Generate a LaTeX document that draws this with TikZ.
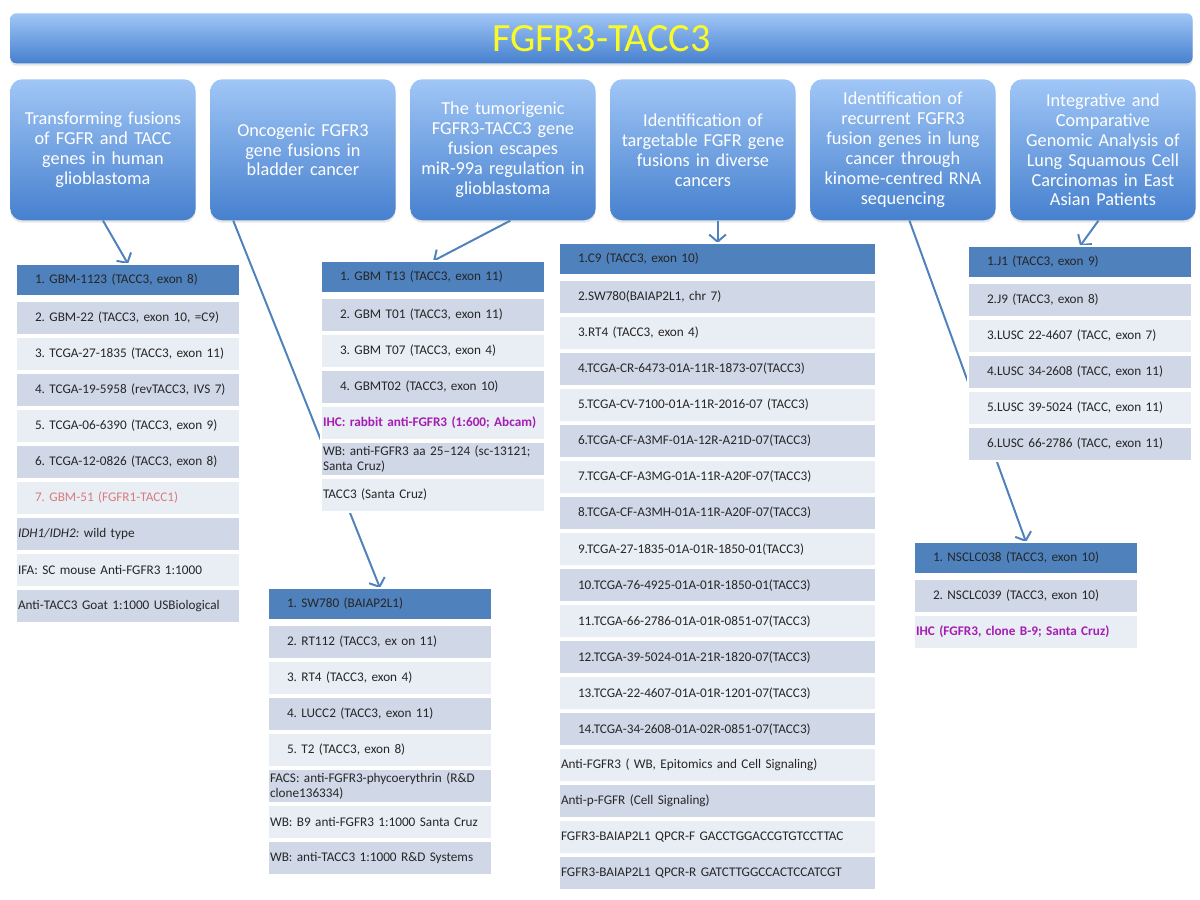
\documentclass[tikz,border=0pt]{standalone}
\usepackage{fontspec}
\setmainfont{Carlito}
\usepackage{xcolor}
\usepackage{tikz}
\usetikzlibrary{arrows.meta, positioning, calc, shadows, backgrounds}

\definecolor{barTop}{RGB}{160,198,246}
\definecolor{barBot}{RGB}{70,128,206}
\definecolor{rowHead}{RGB}{79,129,189}
\definecolor{rowDark}{RGB}{208,216,232}
\definecolor{rowLight}{RGB}{233,237,244}
\definecolor{titleYel}{RGB}{250,250,40}
\definecolor{noteRed}{RGB}{215,125,125}
\definecolor{notePurp}{RGB}{165,30,180}

\begin{document}
\frenchspacing
\begin{tikzpicture}[x=0.025cm, y=-0.025cm,
  banner/.style={rectangle, rounded corners=0.15cm, top color=barTop, bottom color=barBot,
                 minimum width=29.55cm, minimum height=1.25cm, anchor=north west,
                 text=titleYel, font=\fontsize{28.5}{30}\selectfont,
                 drop shadow={shadow xshift=0cm, shadow yshift=-0.06cm, opacity=0.2}},
  paper/.style={rectangle, rounded corners=0.3cm, top color=barTop, bottom color=barBot,
                minimum width=4.625cm, minimum height=3.525cm, text width=4.4cm,
                align=center, text=white, font=\fontsize{13}{14.2}\selectfont,
                drop shadow={shadow xshift=0cm, shadow yshift=-0.06cm, opacity=0.2}},
  cell/.style={rectangle, inner xsep=0.05cm, inner ysep=0pt, outer sep=0pt,
               minimum height=0.85cm, draw=white, line width=0.05cm,
               align=left, font=\fontsize{9.4}{10.2}\selectfont, text=black!85},
  narrow/.style={text width=5.5cm},
  wide/.style={text width=7.825cm},
  head/.style={cell, fill=rowHead, minimum height=0.8cm, anchor=north west},
  dk/.style={cell, fill=rowDark},
  lt/.style={cell, fill=rowLight},
  num/.style={execute at begin node=\hspace*{0.425cm}},
  note/.style={text=notePurp, font=\fontsize{9.4}{10.2}\selectfont\bfseries},
  link/.style={-{Straight Barb[length=1.8mm, width=4.2mm]}, line width=1.4pt, rowHead}
]
\useasboundingbox (0,0) rectangle (1200,899);

% title and the six papers
\node[banner] (ttl) at (10,13) {FGFR3-TACC3};
\node[paper, anchor=north west] (h1) at (10,79) {Transforming fusions\\of FGFR and TACC\\genes in human\\glioblastoma};
\node[paper, right=0.35cm of h1] (h2) {Oncogenic FGFR3\\gene fusions in\\bladder cancer};
\node[paper, right=0.35cm of h2] (h3) {The tumorigenic\\FGFR3-TACC3 gene\\fusion escapes\\miR-99a regulation in\\glioblastoma};
\node[paper, right=0.35cm of h3] (h4) {Identification of\\targetable FGFR gene\\fusions in diverse\\cancers};
\node[paper, right=0.35cm of h4] (h5) {Identification of\\recurrent FGFR3\\fusion genes in lung\\cancer through\\kinome-centred RNA\\sequencing};
\node[paper, right=0.35cm of h5] (h6) {Integrative and\\Comparative\\Genomic Analysis of\\Lung Squamous Cell\\Carcinomas in East\\Asian Patients};

% glioblastoma samples
\node[head, narrow, num] (g1) at (16,264) {1. GBM-1123 (TACC3, exon 8)};
\node[dk, narrow, num, below=0.125cm of g1] (g2) {2. GBM-22 (TACC3, exon 10, =C9)};
\node[lt, narrow, num, below=0.05cm of g2] (g3) {3. TCGA-27-1835 (TACC3, exon 11)};
\node[dk, narrow, num, below=0.05cm of g3] (g4) {4. TCGA-19-5958 (revTACC3, IVS 7)};
\node[lt, narrow, num, below=0.05cm of g4] (g5) {5. TCGA-06-6390 (TACC3, exon 9)};
\node[dk, narrow, num, below=0.05cm of g5] (g6) {6. TCGA-12-0826 (TACC3, exon 8)};
\node[lt, narrow, num, text=noteRed, below=0.05cm of g6] (g7) {7. GBM-51 (FGFR1-TACC1)};
\node[dk, narrow, below=0.05cm of g7] (g8) {\textit{IDH1/IDH2:} wild type};
\node[lt, narrow, below=0.05cm of g8] (g9) {IFA: SC mouse Anti-FGFR3 1:1000};
\node[dk, narrow, below=0.05cm of g9] (g10) {Anti-TACC3 Goat 1:1000 USBiological};

% miR-99a samples
\node[head, narrow, num] (m1) at (321,261) {1. GBM T13 (TACC3, exon 11)};
\node[dk, narrow, num, below=0.125cm of m1] (m2) {2. GBM T01 (TACC3, exon 11)};
\node[lt, narrow, num, below=0.05cm of m2] (m3) {3. GBM T07 (TACC3, exon 4)};
\node[dk, narrow, num, below=0.05cm of m3] (m4) {4. GBMT02 (TACC3, exon 10)};
\node[lt, narrow, note, below=0.05cm of m4] (m5) {IHC: rabbit anti-FGFR3 (1:600; Abcam)};
\node[dk, narrow, below=0.05cm of m5] (m6) {WB: anti-FGFR3 aa 25–124 (sc-13121;\\Santa Cruz)};
\node[lt, narrow, below=0.05cm of m6] (m7) {TACC3 (Santa Cruz)};

% bladder cancer samples
\node[head, narrow, num] (b1) at (268,588) {1. SW780 (BAIAP2L1)};
\node[dk, narrow, num, below=0.125cm of b1] (b2) {2. RT112 (TACC3, ex on 11)};
\node[lt, narrow, num, below=0.05cm of b2] (b3) {3. RT4 (TACC3, exon 4)};
\node[dk, narrow, num, below=0.05cm of b3] (b4) {4. LUCC2 (TACC3, exon 11)};
\node[lt, narrow, num, below=0.05cm of b4] (b5) {5. T2 (TACC3, exon 8)};
\node[dk, narrow, below=0.05cm of b5] (b6) {FACS: anti-FGFR3-phycoerythrin (R\&D\\clone136334)};
\node[lt, narrow, below=0.05cm of b6] (b7) {WB: B9 anti-FGFR3 1:1000 Santa Cruz};
\node[dk, narrow, below=0.05cm of b7] (b8) {WB: anti-TACC3 1:1000 R\&D Systems};

% diverse cancers samples
\node[head, wide, num] (d1) at (559,243) {1.C9 (TACC3, exon 10)};
\node[dk, wide, num, below=0.125cm of d1] (d2) {2.SW780(BAIAP2L1, chr 7)};
\node[lt, wide, num, below=0.05cm of d2] (d3) {3.RT4 (TACC3, exon 4)};
\node[dk, wide, num, below=0.05cm of d3] (d4) {4.TCGA-CR-6473-01A-11R-1873-07(TACC3)};
\node[lt, wide, num, below=0.05cm of d4] (d5) {5.TCGA-CV-7100-01A-11R-2016-07 (TACC3)};
\node[dk, wide, num, below=0.05cm of d5] (d6) {6.TCGA-CF-A3MF-01A-12R-A21D-07(TACC3)};
\node[lt, wide, num, below=0.05cm of d6] (d7) {7.TCGA-CF-A3MG-01A-11R-A20F-07(TACC3)};
\node[dk, wide, num, below=0.05cm of d7] (d8) {8.TCGA-CF-A3MH-01A-11R-A20F-07(TACC3)};
\node[lt, wide, num, below=0.05cm of d8] (d9) {9.TCGA-27-1835-01A-01R-1850-01(TACC3)};
\node[dk, wide, num, below=0.05cm of d9] (d10) {10.TCGA-76-4925-01A-01R-1850-01(TACC3)};
\node[lt, wide, num, below=0.05cm of d10] (d11) {11.TCGA-66-2786-01A-01R-0851-07(TACC3)};
\node[dk, wide, num, below=0.05cm of d11] (d12) {12.TCGA-39-5024-01A-21R-1820-07(TACC3)};
\node[lt, wide, num, below=0.05cm of d12] (d13) {13.TCGA-22-4607-01A-01R-1201-07(TACC3)};
\node[dk, wide, num, below=0.05cm of d13] (d14) {14.TCGA-34-2608-01A-02R-0851-07(TACC3)};
\node[lt, wide, below=0.05cm of d14] (d15) {Anti-FGFR3 ( WB, Epitomics and Cell Signaling)};
\node[dk, wide, below=0.05cm of d15] (d16) {Anti-p-FGFR (Cell Signaling)};
\node[lt, wide, below=0.05cm of d16] (d17) {FGFR3-BAIAP2L1 QPCR-F GACCTGGACCGTGTCCTTAC};
\node[dk, wide, below=0.05cm of d17] (d18) {FGFR3-BAIAP2L1 QPCR-R GATCTTGGCCACTCCATCGT};

% lung squamous samples
\node[head, narrow, num] (l1) at (968,246) {1.J1 (TACC3, exon 9)};
\node[dk, narrow, num, below=0.125cm of l1] (l2) {2.J9 (TACC3, exon 8)};
\node[lt, narrow, num, below=0.05cm of l2] (l3) {3.LUSC 22-4607 (TACC, exon 7)};
\node[dk, narrow, num, below=0.05cm of l3] (l4) {4.LUSC 34-2608 (TACC, exon 11)};
\node[lt, narrow, num, below=0.05cm of l4] (l5) {5.LUSC 39-5024 (TACC, exon 11)};
\node[dk, narrow, num, below=0.05cm of l5] (l6) {6.LUSC 66-2786 (TACC, exon 11)};

% kinome RNA-seq samples
\node[head, narrow, num] (k1) at (914,542) {1. NSCLC038 (TACC3, exon 10)};
\node[dk, narrow, num, below=0.125cm of k1] (k2) {2. NSCLC039 (TACC3, exon 10)};
\node[lt, narrow, note, below=0.05cm of k2] (k3) {IHC (FGFR3, clone B-9; Santa Cruz)};

% arrows run behind the tables
\begin{scope}[on background layer]
\draw[link] (h1.south) -- (g1.north);
\draw[link] ($(h2.south west)!0.125!(h2.south east)$) -- (b1.north);
\draw[link] ($(h3.south west)!0.54!(h3.south east)$) -- (m1.north);
\draw[link] (d1.north |- h4.south) -- (d1.north);
\draw[link] ($(h5.south west)!0.535!(h5.south east)$) -- (k1.north);
\draw[link] ($(h6.south west)!0.476!(h6.south east)$) -- (l1.north);
\end{scope}
\end{tikzpicture}
\end{document}
